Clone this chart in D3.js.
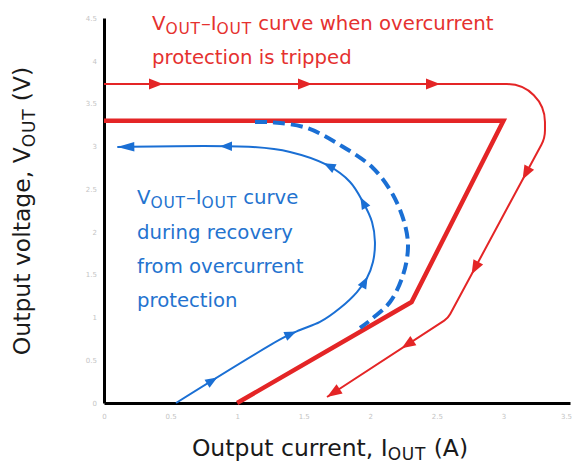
<!DOCTYPE html>
<html><head><meta charset="utf-8">
<script src="https://cdn.jsdelivr.net/npm/d3@7"></script>
<style>body{margin:0;background:#fff}svg{display:block}</style>
</head><body>
<script>
// ---- data ----
const xTicks = [0, 0.5, 1, 1.5, 2, 2.5, 3, 3.5];
const yTicks = [0, 0.5, 1, 1.5, 2, 2.5, 3, 3.5, 4, 4.5];

// thick red: static V-I characteristic with fold-back
const redThick = [[0, 3.3], [3.0, 3.3], [2.31, 1.18], [1.0, 0]];

// thin red: path when overcurrent protection is tripped (corner points, rounded when drawn)
const redThin = [[0, 3.728], [3.312, 3.728], [3.312, 3.097], [2.584, 0.993], [1.675, 0.07]];
const redThinArrows = [[0.443, 3.728], [1.562, 3.728], [2.524, 3.728], [3.147, 2.606],
  [2.772, 1.496], [2.246, 0.619]];

// blue solid: recovery path
const blueSolid = [[0.541, 0], [1.344, 0.76], [1.472, 0.853], [1.622, 0.947], [1.773, 1.11],
  [1.9, 1.297], [1.975, 1.461], [2.02, 1.648], [2.035, 1.882], [2.013, 2.115], [1.945, 2.349],
  [1.848, 2.583], [1.675, 2.782], [1.397, 2.934], [1.119, 2.992], [0.1, 2.992]];
const blueArrows = [[0.849, 0.304], [1.45, 0.818], [1.953, 1.496], [1.953, 2.431], [1.66, 2.84], [0.871, 2.992]];

// blue dashed
const blueDashed = [[1.134, 3.284], [1.269, 3.28], [1.525, 3.214], [1.773, 3.015], [2.02, 2.747],
  [2.171, 2.431], [2.261, 2.08], [2.283, 1.812], [2.246, 1.496], [2.148, 1.18], [2.02, 0.993], [1.923, 0.877]];

const RED = "#e42526", BLUE = "#1a6fd4", RED_TXT = "#e5312f", BLUE_TXT = "#2473cf";
const FONT = "DejaVu Sans";

const W = 572, H = 466;
const svg = d3.select("body").append("svg").attr("width", W).attr("height", H)
  .style("font-family", FONT);

const x = d3.scaleLinear().domain([0, 3.5]).range([104, 570]);
const y = d3.scaleLinear().domain([0, 4.5]).range([403, 18]);

// axes
const xa = svg.append("g").attr("transform", `translate(0,${y(0)})`)
  .call(d3.axisBottom(x).tickValues(xTicks).tickSize(0).tickSizeOuter(0).tickPadding(11).tickFormat(d3.format("")));
const ya = svg.append("g").attr("transform", `translate(${x(0)},0)`)
  .call(d3.axisLeft(y).tickValues(yTicks).tickSize(0).tickSizeOuter(0).tickPadding(7).tickFormat(d3.format("")));
[xa, ya].forEach(a => {
  a.select(".domain").attr("stroke", "#000").attr("stroke-width", 3);
  a.selectAll("text").attr("fill", "#c4c4c4").attr("font-size", 7).attr("font-family", FONT);
});
xa.selectAll(".tick").filter(d => d === 3.5).select("text").attr("dx", -4);

const line = d3.line().x(d => x(d[0])).y(d => y(d[1]));
const smooth = d3.line().x(d => x(d[0])).y(d => y(d[1])).curve(d3.curveCatmullRom.alpha(0.5));
function rounded(pts, radii) {
  const p = d3.path();
  p.moveTo(x(pts[0][0]), y(pts[0][1]));
  for (let i = 1; i < pts.length - 1; i++)
    p.arcTo(x(pts[i][0]), y(pts[i][1]), x(pts[i + 1][0]), y(pts[i + 1][1]), radii[i - 1]);
  const e = pts[pts.length - 1];
  p.lineTo(x(e[0]), y(e[1]));
  return p.toString();
}

const g = svg.append("g");

function placeArrows(node, arrows, len, hw, color) {
  const total = node.getTotalLength();
  arrows.forEach(a => {
    const px = x(a[0]), py = y(a[1]);
    let best = 0, bd = Infinity;
    for (let L = 0; L <= total; L += 0.5) {
      const p = node.getPointAtLength(L);
      const d = (p.x - px) ** 2 + (p.y - py) ** 2;
      if (d < bd) { bd = d; best = L; }
    }
    drawHead(node, best, len, hw, color);
  });
}
function drawHead(node, L, len, hw, color) {
  const total = node.getTotalLength();
  const p0 = node.getPointAtLength(Math.max(0, L - 3)), p1 = node.getPointAtLength(Math.min(total, L + 0.01));
  const ang = Math.atan2(p1.y - p0.y, p1.x - p0.x) * 180 / Math.PI;
  const tip = node.getPointAtLength(L);
  g.append("path").attr("d", `M0,0L${-len},${-hw}L${-len},${hw}Z`)
    .attr("transform", `translate(${tip.x},${tip.y}) rotate(${ang})`).attr("fill", color);
}

// red thick
g.append("path").attr("d", line(redThick)).attr("fill", "none").attr("stroke", RED)
  .attr("stroke-width", 4.5).attr("stroke-linejoin", "miter");

// blue dashed
g.append("path").attr("d", smooth(blueDashed)).attr("fill", "none").attr("stroke", BLUE)
  .attr("stroke-width", 4).attr("stroke-dasharray", "12,6");

// red thin
const rt = g.append("path").attr("d", rounded(redThin, [38, 30, 18])).attr("fill", "none").attr("stroke", RED)
  .attr("stroke-width", 2).node();
placeArrows(rt, redThinArrows, 14, 5.5, RED);
drawHead(rt, rt.getTotalLength(), 15, 5.5, RED);

// blue solid
const bs = g.append("path").attr("d", smooth(blueSolid)).attr("fill", "none").attr("stroke", BLUE)
  .attr("stroke-width", 2).node();
placeArrows(bs, blueArrows, 12, 4.8, BLUE);
drawHead(bs, bs.getTotalLength(), 17, 4.8, BLUE);

// text with subscripts
function viText(sel, parts, size, subSize, shift) {
  const sh = shift != null ? shift : size * 0.22;
  let prevSub = false;
  parts.forEach(p => {
    const t = sel.append("tspan");
    if (p.sub) {
      t.attr("font-size", subSize).attr("dy", sh).attr("letter-spacing", 0.8).text(p.t);
    } else {
      t.attr("font-size", size).text(p.t);
      if (prevSub) t.attr("dy", -sh);
    }
    prevSub = !!p.sub;
  });
}

const TS = 19.7, SUB = 15.5;
const t1 = svg.append("text").attr("x", 152).attr("y", 30).attr("fill", RED_TXT);
viText(t1, [{t: "V"}, {t: "OUT", sub: 1}, {t: "–I"}, {t: "OUT", sub: 1}, {t: " curve when overcurrent"}], TS, SUB);
svg.append("text").attr("x", 152).attr("y", 64).attr("fill", RED_TXT).attr("font-size", TS)
  .text("protection is tripped");

const bl = svg.append("text").attr("x", 137).attr("y", 204).attr("fill", BLUE_TXT);
viText(bl, [{t: "V"}, {t: "OUT", sub: 1}, {t: "–I"}, {t: "OUT", sub: 1}, {t: " curve"}], TS, SUB);
["during recovery", "from overcurrent", "protection"].forEach((s, i) => {
  svg.append("text").attr("x", 137).attr("y", [239, 273, 307][i]).attr("fill", BLUE_TXT)
    .attr("font-size", TS).text(s);
});

// axis titles
const xt = svg.append("text").attr("x", 330).attr("y", 456).attr("text-anchor", "middle").attr("fill", "#1a1a1a");
viText(xt, [{t: "Output current, I"}, {t: "OUT", sub: 1}, {t: " (A)"}], 23.5, 17, 4);
const yt = svg.append("text").attr("transform", "translate(30,211) rotate(-90)").attr("text-anchor", "middle").attr("fill", "#1a1a1a");
viText(yt, [{t: "Output voltage, V"}, {t: "OUT", sub: 1}, {t: " (V)"}], 23.5, 17);
</script>
</body></html>
